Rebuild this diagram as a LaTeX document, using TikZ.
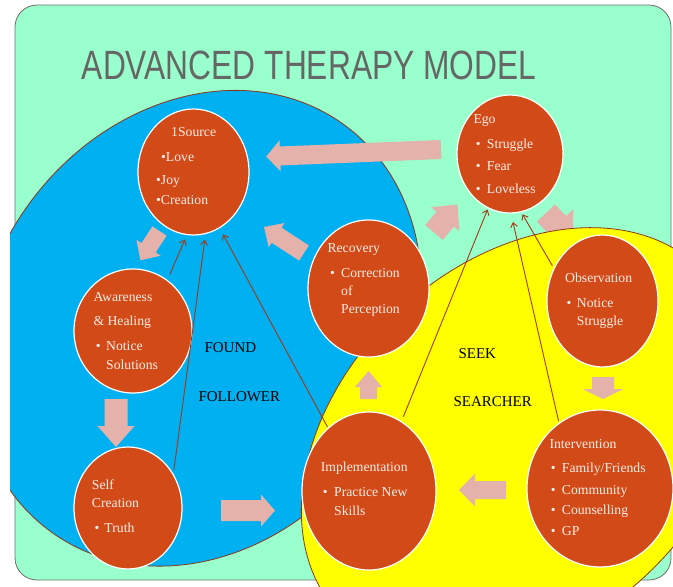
\documentclass[tikz,border=0pt]{standalone}
\usepackage{graphicx}
\usepackage{fontspec}
\setmainfont{Liberation Serif}
\newfontfamily\titlefont{Liberation Sans}
\usetikzlibrary{shapes.geometric,arrows.meta}
\definecolor{bggreen}{RGB}{153,255,204}
\definecolor{skyblue}{RGB}{0,176,240}
\definecolor{ylw}{RGB}{255,255,0}
\definecolor{orng}{RGB}{209,74,24}
\definecolor{pnk}{RGB}{228,178,170}
\definecolor{rim}{RGB}{140,55,25}
\definecolor{connc}{RGB}{165,55,25}
\definecolor{ttl}{RGB}{102,102,102}
\definecolor{ctext}{RGB}{252,238,230}
\definecolor{frame}{RGB}{110,110,110}
% block arrow: tail x, tail y, angle, length, shaft width, head width, head length
\newcommand\barrow[7]{\fill[pnk, shift={(#1,#2)}, rotate=#3]
  (0pt,{-0.5*#5pt}) -- ({#4pt-#7pt},{-0.5*#5pt}) -- ({#4pt-#7pt},{-0.5*#6pt}) --
  (#4pt,0pt) -- ({#4pt-#7pt},{0.5*#6pt}) -- ({#4pt-#7pt},{0.5*#5pt}) -- (0pt,{0.5*#5pt}) -- cycle;}
\begin{document}
\begin{tikzpicture}[x=1pt,y=-1pt,
  circ/.style={ellipse, draw=white, line width=1.2pt, fill=orng, inner sep=0pt},
  ctxt/.style={anchor=base west, inner sep=0pt, text=ctext, font=\fontsize{13.7pt}{18pt}\selectfont},
  lbl/.style={anchor=base west, inner sep=0pt, text=black, font=\fontsize{15pt}{18pt}\selectfont},
  conn/.style={draw=connc, line width=0.9pt, -{Straight Barb[length=4.5pt,width=7pt]}}]
\useasboundingbox (0,0) rectangle (673,587);
\clip (0,0) rectangle (673,587);
% background
\draw[fill=bggreen, draw=frame, line width=0.8pt, rounded corners=22pt] (15,5) rectangle (671,580);
% blue region
\begin{scope}
  \clip (10,0) rectangle (673,587);
  \draw[fill=skyblue, draw=rim, line width=0.8pt, rotate around={54.8:(197.5,328.25)}]
    (197.5,328.25) ellipse [x radius=250.8pt, y radius=209.4pt];
\end{scope}
% arrow Ego -> Observation (partly under yellow)
\barrow{546}{213}{-46.6}{39}{25}{45}{23}
% yellow region
\draw[fill=ylw, draw=rim, line width=0.8pt, rotate around={43:(522,443.5)}]
  (522,443.5) ellipse [x radius=250pt, y radius=181pt];
% title
\node[anchor=base west, inner sep=0pt, text=ttl, font=\titlefont\fontsize{40.9pt}{45pt}\selectfont]
  (title) at (81.7,79.3) {\scalebox{0.776}[1]{ADVANCED THERAPY MODEL}};
% block arrows
\barrow{441}{149.5}{182.3}{175}{19}{31}{14}
\barrow{159.5}{231}{237}{35}{17}{29}{15}
\barrow{304}{253}{147}{47.7}{18}{29}{15}
\barrow{116}{399}{270}{48}{23}{37}{21}
\barrow{221}{510.5}{0}{54}{21}{32}{14}
\barrow{368.5}{399}{90}{28}{17}{27}{16}
\barrow{506}{490}{180}{47}{18}{33}{16}
\barrow{603}{377}{270}{22}{22}{41}{10}
\barrow{434}{232.5}{50}{36.5}{23}{37}{19}
% circles
\node[circ, minimum width=111pt, minimum height=126pt] (src) at (193.5,172) {};
\node[circ, minimum width=106pt, minimum height=118pt] (ego) at (510,154) {};
\node[circ, minimum width=121pt, minimum height=137pt] (rec) at (368.5,288.5) {};
\node[circ, minimum width=111pt, minimum height=132pt] (obs) at (602.5,301) {};
\node[circ, minimum width=118pt, minimum height=124pt] (awa) at (133,331) {};
\node[circ, minimum width=108pt, minimum height=122pt] (self) at (128,508) {};
\node[circ, minimum width=134pt, minimum height=158pt] (imp) at (369,491) {};
\node[circ, minimum width=146pt, minimum height=157pt] (int) at (600,488.5) {};
% thin connectors
\draw[conn, shorten <=6pt, shorten >=4.7pt] (awa.56) -- (src.264);
\draw[conn, shorten <=4pt, shorten >=5.7pt] (self.37) -- (src.281);
\draw[conn, shorten <=1pt, shorten >=7pt] (imp.123) -- (src.295);
\draw[conn, shorten <=5pt, shorten >=1.2pt] (imp.65) -- (ego.248);
\draw[conn, shorten <=1.8pt, shorten >=8.7pt] (int.122) -- (ego.271);
\draw[conn, shorten <=2.7pt, shorten >=2.4pt] (obs.146) -- (ego.281);
% circle texts
\node[ctxt] (srcT) at (156,136) {\begin{tabular}[t]{@{}l@{}}\hspace*{15pt}1Source\\[7.5pt]
  \hspace*{5pt}•Love\\[4.5pt] •Joy\\[2pt] •Creation\end{tabular}};
\node[ctxt] (egoT) at (473.3,123) {\begin{tabular}[t]{@{}l@{}}Ego\\[7pt]
  \hspace*{2.4pt}\makebox[11pt][l]{•}Struggle\\[4pt]
  \hspace*{2.4pt}\makebox[11pt][l]{•}Fear\\[5pt]
  \hspace*{2.4pt}\makebox[11pt][l]{•}Loveless\end{tabular}};
\node[ctxt] (recT) at (327.3,252) {\begin{tabular}[t]{@{}l@{}}Recovery\\[7pt]
  \hspace*{2.7pt}\makebox[11pt][l]{•}Correction\\[0.5pt]
  \hspace*{13.7pt}of\\[-0.5pt]
  \hspace*{13.7pt}Perception\end{tabular}};
\node[ctxt] (obsT) at (565,282.5) {\begin{tabular}[t]{@{}l@{}}Observation\\[7pt]
  \hspace*{1.5pt}\makebox[10.2pt][l]{•}Notice\\[0.3pt]
  \hspace*{11.7pt}Struggle\end{tabular}};
\node[ctxt] (awaT) at (93.3,301) {\begin{tabular}[t]{@{}l@{}}Awareness\\[6.8pt]
  \&~Healing\\[7pt]
  \hspace*{2.4pt}\makebox[10.3pt][l]{•}Notice\\[0.2pt]
  \hspace*{12.7pt}Solutions\end{tabular}};
\node[ctxt] (selfT) at (91.7,489) {\begin{tabular}[t]{@{}l@{}}Self\\[0.5pt]
  Creation\\[7pt]
  \hspace*{2.6pt}\makebox[10pt][l]{•}Truth\end{tabular}};
\node[ctxt] (impT) at (320.7,471.8) {\begin{tabular}[t]{@{}l@{}}Implementation\\[6.7pt]
  \hspace*{2pt}\makebox[11.3pt][l]{•}Practice New\\[0.5pt]
  \hspace*{13.3pt}Skills\end{tabular}};
\node[ctxt] (intT) at (549.3,448) {\begin{tabular}[t]{@{}l@{}}Intervention\\[6.5pt]
  \hspace*{1.4pt}\makebox[11pt][l]{•}Family/Friends\\[3.5pt]
  \hspace*{1.4pt}\makebox[11pt][l]{•}Community\\[2.8pt]
  \hspace*{1.4pt}\makebox[11pt][l]{•}Counselling\\[2.2pt]
  \hspace*{1.4pt}\makebox[11pt][l]{•}GP\end{tabular}};
% region labels
\node[lbl] (found) at (204.3,352.3) {FOUND};
\node[lbl] (follower) at (198.3,401) {FOLLOWER};
\node[lbl] (seek) at (458.3,358) {SEEK};
\node[lbl] (searcher) at (453.3,406.5) {SEARCHER};
\end{tikzpicture}
\end{document}
